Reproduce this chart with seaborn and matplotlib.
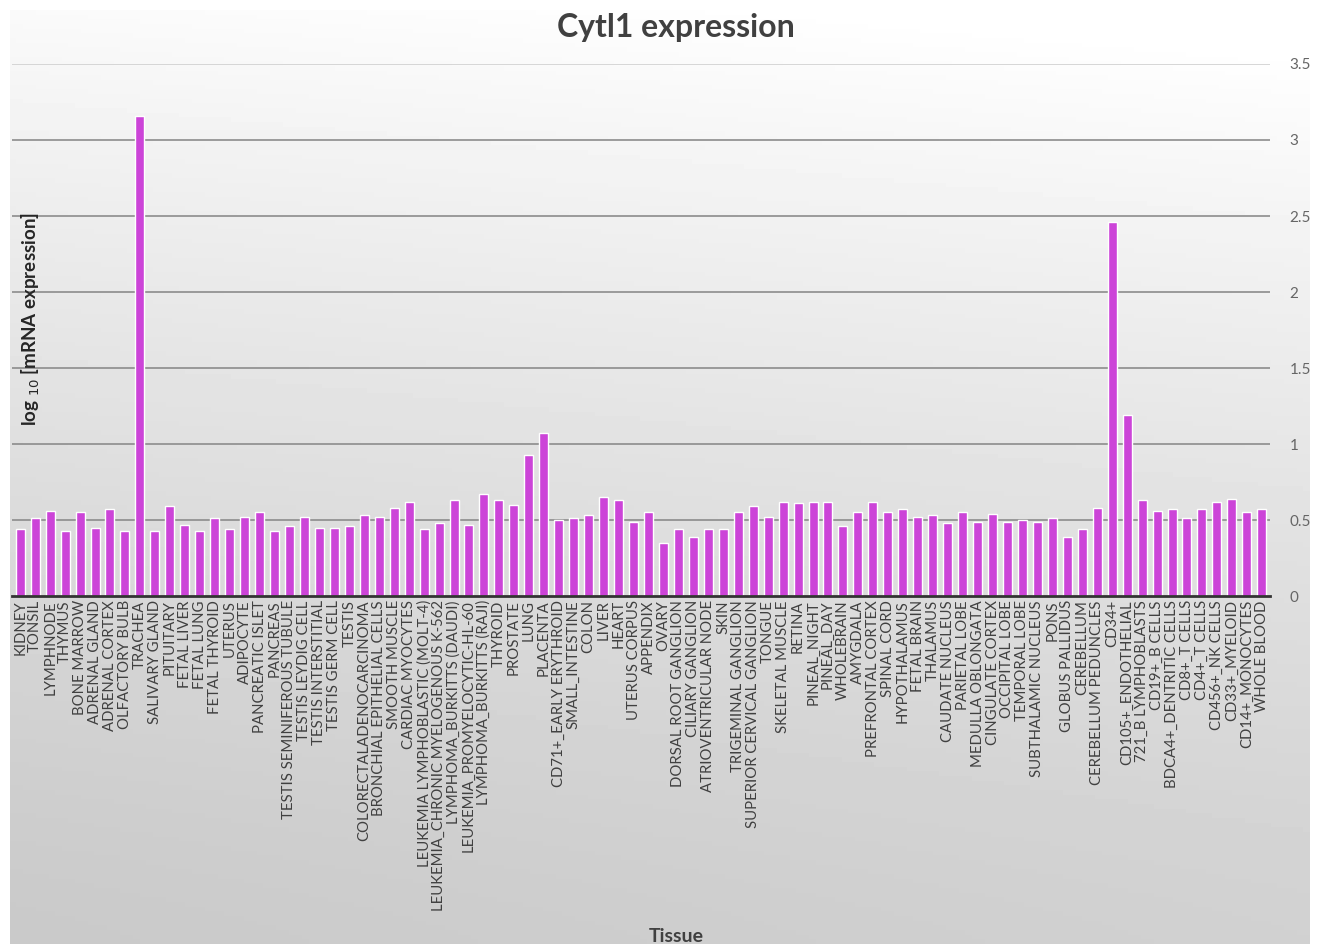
import numpy as np
import pandas as pd
import matplotlib
matplotlib.use("Agg")
import matplotlib.pyplot as plt
import seaborn as sns

# tissues in the order of the chart
tissues = [
    "KIDNEY", "TONSIL", "LYMPHNODE", "THYMUS", "BONE MARROW", "ADRENAL GLAND",
    "ADRENAL CORTEX", "OLFACTORY BULB", "TRACHEA", "SALIVARY GLAND", "PITUITARY",
    "FETAL LIVER", "FETAL LUNG", "FETAL THYROID", "UTERUS", "ADIPOCYTE",
    "PANCREATIC ISLET", "PANCREAS", "TESTIS SEMINIFEROUS TUBULE", "TESTIS LEYDIG CELL",
    "TESTIS INTERSTITIAL", "TESTIS GERM CELL", "TESTIS", "COLORECTALADENOCARCINOMA",
    "BRONCHIAL EPITHELIAL CELLS", "SMOOTH MUSCLE", "CARDIAC MYOCYTES",
    "LEUKEMIA LYMPHOBLASTIC (MOLT-4)", "LEUKEMIA_CHRONIC MYELOGENOUS K-562",
    "LYMPHOMA_BURKITTS (DAUDI)", "LEUKEMIA_PROMYELOCYTIC-HL-60",
    "LYMPHOMA_BURKITTS (RAJI)", "THYROID", "PROSTATE", "LUNG", "PLACENTA",
    "CD71+_EARLY ERYTHROID", "SMALL_INTESTINE", "COLON", "LIVER", "HEART",
    "UTERUS CORPUS", "APPENDIX", "OVARY", "DORSAL ROOT GANGLION", "CILIARY GANGLION",
    "ATRIOVENTRICULAR NODE", "SKIN", "TRIGEMINAL GANGLION", "SUPERIOR CERVICAL GANGLION",
    "TONGUE", "SKELETAL MUSCLE", "RETINA", "PINEAL_NIGHT", "PINEAL_DAY", "WHOLEBRAIN",
    "AMYGDALA", "PREFRONTAL CORTEX", "SPINAL CORD", "HYPOTHALAMUS", "FETAL BRAIN",
    "THALAMUS", "CAUDATE NUCLEUS", "PARIETAL LOBE", "MEDULLA OBLONGATA",
    "CINGULATE CORTEX", "OCCIPITAL LOBE", "TEMPORAL LOBE", "SUBTHALAMIC NUCLEUS",
    "PONS", "GLOBUS PALLIDUS", "CEREBELLUM", "CEREBELLUM PEDUNCLES", "CD34+",
    "CD105+_ENDOTHELIAL", "721_B LYMPHOBLASTS", "CD19+_B CELLS",
    "BDCA4+_DENTRITIC CELLS", "CD8+_T CELLS", "CD4+_T CELLS", "CD456+_NK CELLS",
    "CD33+_MYELOID", "CD14+_MONOCYTES", "WHOLE BLOOD",
]

# log10 expression
expression = [
    0.44, 0.51, 0.56, 0.43, 0.55, 0.45, 0.57, 0.43, 3.16, 0.43, 0.59,
    0.47, 0.43, 0.51, 0.44, 0.52, 0.55, 0.43, 0.46, 0.52,
    0.45, 0.45, 0.46, 0.53, 0.52, 0.58, 0.62,
    0.44, 0.48, 0.63, 0.47, 0.67, 0.63, 0.60, 0.93, 1.07,
    0.50, 0.51, 0.53, 0.65, 0.63, 0.49, 0.55, 0.35, 0.44, 0.39,
    0.44, 0.44, 0.55, 0.59, 0.52, 0.62, 0.61, 0.62, 0.62, 0.46,
    0.55, 0.62, 0.55, 0.57, 0.52, 0.53, 0.48, 0.55, 0.49,
    0.54, 0.49, 0.50, 0.49, 0.51, 0.39, 0.44, 0.58, 2.46,
    1.19, 0.63, 0.56, 0.57, 0.51, 0.57, 0.62, 0.64, 0.55, 0.57,
]

y_ticks = [0, 0.5, 1, 1.5, 2, 2.5, 3, 3.5]
y_tick_labels = ["0", "0.5", "1", "1.5", "2", "2.5", "3", "3.5"]

df = pd.DataFrame({"Tissue": tissues, "expr": expression})

sns.set_style("white")
plt.rcParams["font.family"] = ["Lato", "DejaVu Sans"]

fig = plt.figure(figsize=(13.2, 9.44), dpi=100)

# gradient background panel (light at top, grey towards the bottom)
bg = fig.add_axes([10 / 1320, 0, 1300 / 1320, 934 / 944])
yy, xx = np.mgrid[0:1:200j, 0:1:200j]
shade = 0.79 + 0.19 * (1 - yy) ** 1.3 + 0.03 * xx
shade = np.clip(shade, 0, 1)
bg.imshow(shade, cmap="gray", vmin=0, vmax=1, aspect="auto", extent=[0, 1, 0, 1], origin="upper")
bg.set_axis_off()

ax = fig.add_axes([12 / 1320, 1 - 596 / 944, 1258 / 1320, 532 / 944])
ax.patch.set_alpha(0)

sns.barplot(data=df, x="Tissue", y="expr", color="#CC44D8", width=0.6,
            saturation=1, ax=ax, zorder=3)

ax.set_ylim(0, 3.5)
ax.set_xlim(-0.55, len(tissues) - 0.45)
ax.set_yticks(y_ticks)
ax.set_yticklabels(y_tick_labels)
ax.yaxis.tick_right()
ax.tick_params(axis="y", length=0, labelsize=11, labelcolor="#666666", pad=14)
ax.tick_params(axis="x", length=0, labelsize=10.7, labelcolor="#404040", pad=3)
plt.setp(ax.get_xticklabels(), rotation=90)

for v in y_ticks[1:]:
    ax.axhline(v, color="#8c8c8c" if v < 3.5 else "#d0d0d0", lw=1.2, zorder=1)

for s in ["top", "left", "right"]:
    ax.spines[s].set_visible(False)
ax.spines["bottom"].set_color("#333333")
ax.spines["bottom"].set_linewidth(2)
ax.spines["bottom"].set_zorder(4)

ax.set_xlabel("")
ax.set_ylabel("")
ax.text(0.015, 0.52, r"log $_{10}$ [mRNA expression]", transform=ax.transAxes,
        rotation=90, ha="center", va="center", fontsize=13.5, fontweight="bold",
        color="#262626")

fig.text(676 / 1320, 1 - 27 / 944, "Cytl1 expression", ha="center", va="center",
         fontsize=23, fontweight="bold", color="#404040")
fig.text(676 / 1320, 1 - 936 / 944, "Tissue", ha="center", va="center",
         fontsize=14, fontweight="bold", color="#404040")

fig.savefig("out.png", dpi=100)
